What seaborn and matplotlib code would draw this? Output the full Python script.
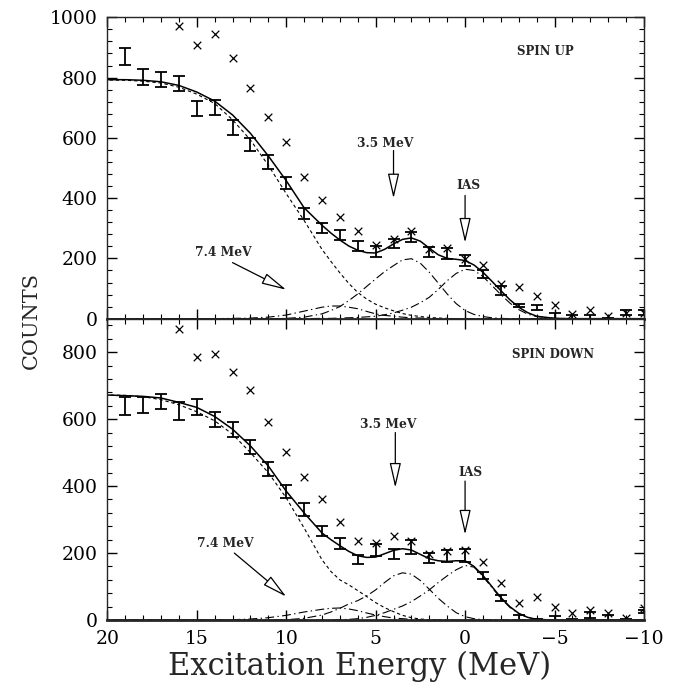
import numpy as np
import matplotlib
matplotlib.use("Agg")
import matplotlib.pyplot as plt
import seaborn as sns
from matplotlib.ticker import MultipleLocator

# ==========================================
# DATA
# ==========================================
# measured points, 1 MeV steps
bar_e = [19, 18, 17, 16, 15, 14, 13, 12, 11, 10, 9, 8, 7, 6, 5, 4, 3, 2, 1, 0,
         -1, -2, -3, -4, -5, -6, -7, -8, -9, -10]

up_counts = [869, 802, 794, 780, 698, 701, 633, 579, 520, 451, 349, 302, 277, 242, 224, 250,
             272, 220, 216, 193, 148, 94, 44, 38, 8, 5, 4, 0, 21, 21]
up_err = [28, 27, 26, 26, 25, 25, 25, 22, 22, 20, 19, 17, 17, 17, 18, 15,
          16, 17, 17, 17, 13, 14, 6, 8, 10, 8, 8, 3, 9, 9]

down_counts = [640, 641, 652, 624, 636, 598, 570, 517, 451, 384, 331, 266, 228, 180, 208, 197,
               218, 186, 190, 192, 132, 66, 8, 0, 5, 0, 15, 8, 0, 25]
down_err = [27, 24, 23, 26, 24, 23, 22, 22, 21, 19, 19, 16, 16, 14, 18, 15,
            20, 15, 18, 20, 10, 9, 7, 3, 8, 3, 10, 8, 3, 5]

# crosses (second data set), visible ones only
cross_e = [16, 15, 14, 13, 12, 11, 10, 9, 8, 7, 6, 5, 4, 3, 2, 1, 0,
           -1, -2, -3, -4, -5, -6, -7, -8, -9, -10]
up_cross = [971, 908, 943, 864, 767, 670, 587, 471, 393, 338, 290, 246, 264, 291, 232, 236, 197,
            177, 116, 105, 74, 44, 17, 30, 8, 19, 19]
down_cross = [868, 785, 795, 742, 687, 592, 502, 428, 362, 293, 236, 230, 252, 237, 198, 206, 210,
              173, 112, 52, 70, 40, 22, 30, 20, 7, 35]

# fit curves
curve_e = [20, 19, 18, 17, 16, 15, 14, 13, 12, 11, 10, 9, 8,
           7.5, 7, 6.5, 6, 5.5, 5, 4.5, 4, 3.5, 3, 2.5, 2, 1.5, 1, 0.5, 0,
           -0.5, -1, -1.5, -2, -2.5, -3, -3.5, -4, -5, -6, -7, -8, -9, -10]

up_total = [793, 793, 791, 786, 774, 752, 722, 676, 615, 540, 458, 368, 310,
            284, 261, 241, 227, 219, 218, 230, 248, 263, 268, 257, 234, 212, 200, 197, 193,
            178, 154, 124, 93, 63, 38, 20, 8, 1, 0, 0, 0, 0, 0]
up_back = [792, 791, 788, 782, 768, 745, 714, 660, 593, 509, 415, 326, 230,
           190, 152, 117, 87, 65, 48, 36, 26, 17, 11, 7, 4, 2, 1, 0, 0,
           0, 0, 0, 0, 0, 0, 0, 0, 0, 0, 0, 0, 0, 0]
up_p35 = [0, 0, 0, 0, 0, 0, 0, 0, 0, 0, 1, 5, 16,
          27, 40, 60, 82, 107, 132, 156, 176, 195, 199, 184, 154, 118, 82, 50, 27,
          14, 7, 3, 1, 0, 0, 0, 0, 0, 0, 0, 0, 0, 0]
up_p74 = [0, 0, 0, 0, 0, 0, 0, 1, 2, 5, 12, 25, 38,
          42, 42, 38, 33, 24, 16, 11, 8, 5, 3, 2, 1, 0, 0, 0, 0,
          0, 0, 0, 0, 0, 0, 0, 0, 0, 0, 0, 0, 0, 0]
up_ias = [0, 0, 0, 0, 0, 0, 0, 0, 0, 0, 0, 0, 1,
          1, 2, 3, 4, 6, 8, 13, 19, 28, 38, 53, 71, 97, 126, 150, 164,
          160, 140, 110, 80, 52, 30, 15, 7, 1, 0, 0, 0, 0, 0]

down_total = [672, 670, 668, 663, 650, 635, 608, 570, 520, 460, 385, 320, 260,
              240, 222, 205, 192, 187, 188, 198, 208, 213, 209, 196, 183, 177, 175, 177, 177,
              160, 133, 100, 67, 40, 20, 8, 2, 0, 0, 0, 0, 0, 0]
down_back = [672, 671, 667, 658, 643, 622, 595, 555, 500, 440, 365, 275, 180,
             145, 120, 105, 88, 70, 52, 37, 25, 14, 7, 3, 1, 0, 0, 0, 0,
             0, 0, 0, 0, 0, 0, 0, 0, 0, 0, 0, 0, 0, 0]
down_p35 = [0, 0, 0, 0, 0, 0, 0, 0, 0, 0, 1, 5, 15,
            24, 35, 48, 58, 72, 90, 112, 132, 141, 137, 118, 92, 65, 42, 22, 10,
            4, 1, 0, 0, 0, 0, 0, 0, 0, 0, 0, 0, 0, 0]
down_p74 = [0, 0, 0, 0, 0, 0, 0, 1, 3, 7, 14, 24, 32,
            35, 36, 33, 28, 21, 15, 10, 6, 4, 2, 1, 0, 0, 0, 0, 0,
            0, 0, 0, 0, 0, 0, 0, 0, 0, 0, 0, 0, 0, 0]
down_ias = [0, 0, 0, 0, 0, 0, 0, 0, 0, 0, 0, 0, 0,
            0, 1, 2, 4, 8, 14, 22, 32, 42, 55, 72, 90, 112, 132, 150, 163,
            158, 130, 97, 65, 38, 19, 8, 3, 0, 0, 0, 0, 0, 0]

# ==========================================
# STYLE
# ==========================================
sns.set_theme(style="ticks")
plt.rcParams['font.family'] = ['DejaVu Serif']
plt.rcParams['axes.linewidth'] = 1.0

fig = plt.figure(figsize=(6.75, 6.92), dpi=100)
gs = fig.add_gridspec(2, 1, left=0.159, right=0.954, top=0.975, bottom=0.104, hspace=0)
ax_up = fig.add_subplot(gs[0])
ax_dn = fig.add_subplot(gs[1], sharex=ax_up)

DASH = (0, (3.0, 2.5))
DASHDOT = (0, (8, 3, 1.2, 3))


def draw_panel(ax, counts, err, cross, total, back, p35, p74, ias, ymax):
    sns.lineplot(x=curve_e, y=back, ax=ax, color='black', lw=0.8, linestyle=DASH)
    for comp in (p35, p74, ias):
        sns.lineplot(x=curve_e, y=comp, ax=ax, color='black', lw=0.8, linestyle=DASHDOT)
    sns.lineplot(x=curve_e, y=total, ax=ax, color='black', lw=1.1)
    ax.errorbar(bar_e, counts, yerr=err, fmt='none', ecolor='black',
                elinewidth=1.3, capsize=4.5, capthick=1.3)
    sns.scatterplot(x=cross_e, y=cross, ax=ax, marker='x', color='black',
                    s=30, linewidth=0.9)
    ax.set_xlim(20, -10)
    ax.set_ylim(0, ymax)
    ax.xaxis.set_major_locator(MultipleLocator(5))
    ax.xaxis.set_minor_locator(MultipleLocator(1))
    ax.yaxis.set_major_locator(MultipleLocator(200))
    ax.yaxis.set_minor_locator(MultipleLocator(40))
    ax.tick_params(which='both', direction='in', top=True, right=True, colors='black')
    ax.tick_params(which='major', length=7, width=1.0, labelsize=13.5, pad=7)
    ax.tick_params(which='minor', length=3.5, width=0.8)
    ax.spines['bottom'].set_linewidth(2.0)
    ax.set_xlabel('')
    ax.set_ylabel('')


def arrow(ax, label, tip, start, text_xy, fs=8.8):
    ax.annotate('', xy=tip, xytext=start,
                arrowprops=dict(arrowstyle='-|>,head_length=1.4,head_width=0.32',
                                mutation_scale=11, fc='white', ec='black', lw=0.9,
                                shrinkA=0, shrinkB=0))
    ax.text(text_xy[0], text_xy[1], label, ha='center', va='center',
            fontsize=fs, fontweight='bold')


draw_panel(ax_up, up_counts, up_err, up_cross, up_total, up_back, up_p35, up_p74, up_ias, 1000)
draw_panel(ax_dn, down_counts, down_err, down_cross, down_total, down_back, down_p35, down_p74,
           down_ias, 900)

ax_up.tick_params(labelbottom=False)
ax_dn.set_yticks([0, 200, 400, 600, 800])

# annotations - top
ax_up.text(-4.5, 887, 'SPIN UP', ha='center', va='center', fontsize=8.5, fontweight='bold')
arrow(ax_up, '3.5 MeV', (4.0, 399), (4.0, 558), (4.45, 581))
arrow(ax_up, 'IAS', (0.0, 252), (0.0, 409), (-0.2, 442))
arrow(ax_up, '7.4 MeV', (10.0, 96), (13.0, 186), (13.5, 219))

# annotations - bottom
ax_dn.text(-4.9, 792, 'SPIN DOWN', ha='center', va='center', fontsize=8.5, fontweight='bold')
arrow(ax_dn, '3.5 MeV', (3.9, 395), (3.9, 560), (4.3, 585))
arrow(ax_dn, 'IAS', (0.0, 255), (0.0, 415), (-0.3, 440))
arrow(ax_dn, '7.4 MeV', (10.0, 70), (12.9, 200), (13.4, 228))

fig.text(0.046, 0.537, 'COUNTS', rotation=90, ha='center', va='center', fontsize=15)
fig.text(0.533, 0.037, 'Excitation Energy (MeV)', ha='center', va='center', fontsize=22)

fig.savefig('out.png', dpi=100, facecolor='white')
